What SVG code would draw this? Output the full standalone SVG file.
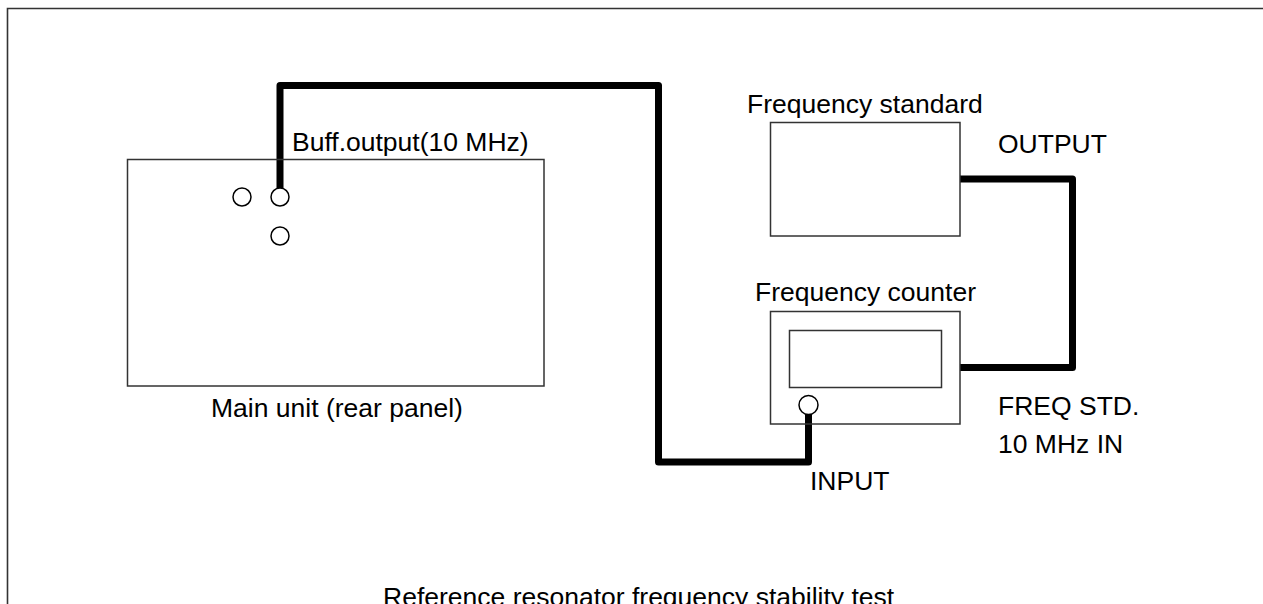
<svg xmlns="http://www.w3.org/2000/svg" width="1263" height="604" viewBox="0 0 1263 604">
<style>
.box{fill:none;stroke:#333;stroke-width:1.5}
.jack{fill:#fff;stroke:#000;stroke-width:1.5}
.cable{fill:none;stroke:#000;stroke-width:7;stroke-linejoin:round;stroke-linecap:butt}
text{font-family:"Liberation Sans",Arial,Helvetica,sans-serif;font-size:26.5px;fill:#000}
</style>
<rect width="1263" height="604" fill="#fff"/>
<path d="M7.5,604 V8.5 H1263" fill="none" stroke="#333" stroke-width="1.6"/>
<g id="connectors">
<path class="cable" d="M280,188 V85.5 H658.5 V462 H808.5 V414"/>
<path class="cable" d="M960,179 H1072.5 V367.5 H960"/>
</g>
<g id="main-unit">
<rect class="box" x="127.5" y="159.5" width="416.5" height="226.5"/>
<circle class="jack" cx="242" cy="197" r="9"/>
<circle class="jack" cx="280" cy="197" r="9"/>
<circle class="jack" cx="280" cy="236" r="9"/>
<text x="292" y="151">Buff.output(10 MHz)</text>
<text x="211" y="416.5">Main unit (rear panel)</text>
</g>
<g id="frequency-standard">
<rect class="box" x="770.5" y="122.5" width="189.5" height="113.5"/>
<text x="747" y="113">Frequency standard</text>
<text x="998" y="153">OUTPUT</text>
</g>
<g id="frequency-counter">
<rect class="box" x="770.5" y="311.5" width="189.5" height="112.5"/>
<rect class="box" x="789.5" y="330.5" width="152" height="57"/>
<circle class="jack" cx="808.5" cy="405" r="9.5"/>
<text x="755" y="301">Frequency counter</text>
<text x="998" y="415">FREQ STD.</text>
<text x="998" y="453">10 MHz IN</text>
<text x="810" y="490">INPUT</text>
</g>
<text x="383" y="605.5">Reference resonator frequency stability test</text>
</svg>
